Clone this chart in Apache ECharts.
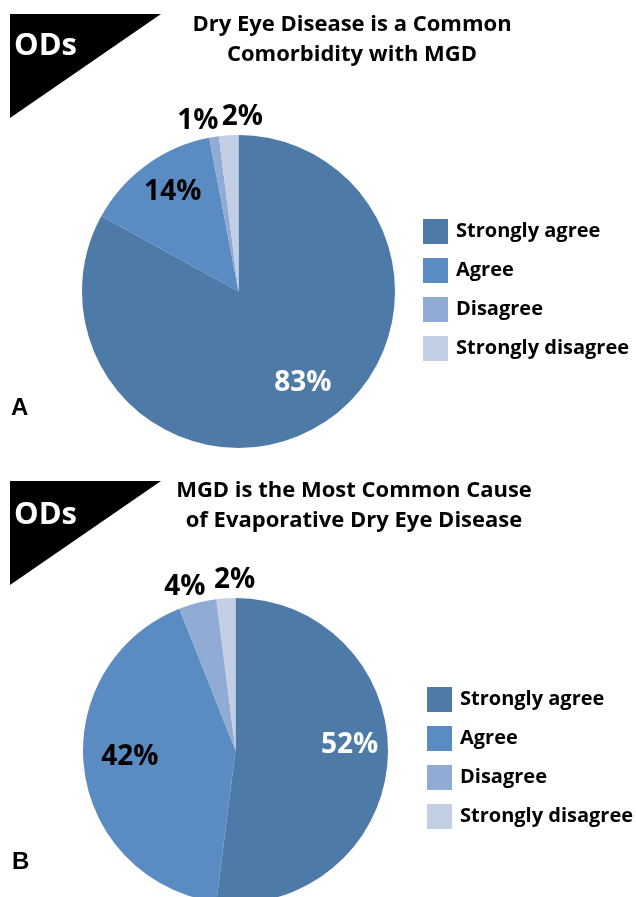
<!DOCTYPE html>
<html>
<head>
<meta charset="utf-8">
<script src="https://cdn.jsdelivr.net/npm/echarts@6/dist/echarts.min.js"></script>
<style>
  html, body { margin: 0; padding: 0; background: #fff; }
  #chart { width: 636px; height: 897px; }
</style>
</head>
<body>
<div id="chart"></div>
<script>
// Survey response categories (shared by both panels)
const categories = ['Strongly agree', 'Agree', 'Disagree', 'Strongly disagree'];

// Panel A: "Dry Eye Disease is a Common Comorbidity with MGD" (percent of ODs)
const panelAValues = [83, 14, 1, 2];
// Panel B: "MGD is the Most Common Cause of Evaporative Dry Eye Disease" (percent of ODs)
const panelBValues = [52, 42, 4, 2];

const panelATitle = 'Dry Eye Disease is a Common\nComorbidity with MGD';
const panelBTitle = 'MGD is the Most Common Cause\nof Evaporative Dry Eye Disease';

const sliceColors = ['#4d7aa6', '#5a8bc2', '#90abd4', '#c3cfe4'];
const labelColors = ['#ffffff', '#000000', '#000000', '#000000'];

// Label nudges (pixels) from the default inside position, per slice
const panelANudge = [[23, 22], [-18, -34], [-28, -90], [9, -93]];
const panelBNudge = [[35, -10], [-27, -3], [-31, -87], [4, -91]];

const FONT = '"Open Sans", Lato, sans-serif';

function buildData(values) {
  return categories.map((name, i) => ({
    name: name,
    value: values[i],
    itemStyle: { color: sliceColors[i] },
    label: { color: labelColors[i] }
  }));
}

function pieSeries(values, center, radius, nudge) {
  return {
    type: 'pie',
    center: center,
    radius: radius,
    startAngle: 90,
    clockwise: true,
    avoidLabelOverlap: false,
    silent: true,
    animation: false,
    itemStyle: { borderWidth: 0 },
    label: {
      show: true,
      position: 'inside',
      formatter: '{c}%',
      fontFamily: FONT,
      fontWeight: 'bold',
      fontSize: 28
    },
    labelLine: { show: false },
    labelLayout: function (p) {
      const n = nudge[p.dataIndex];
      return { dx: n[0], dy: n[1] };
    },
    emphasis: { disabled: true },
    data: buildData(values)
  };
}

function legendAt(left, top) {
  return {
    orient: 'vertical',
    left: left,
    top: top,
    padding: 0,
    itemWidth: 25,
    itemHeight: 25,
    itemGap: 14,
    icon: 'rect',
    selectedMode: false,
    data: categories,
    textStyle: {
      fontFamily: FONT,
      fontWeight: 'bold',
      fontSize: 20,
      color: '#000',
      padding: [0, 0, 0, 3]
    }
  };
}

function badge(top, textTop) {
  return [
    {
      type: 'polygon',
      shape: { points: [[10, top], [161, top], [10, top + 104]] },
      style: { fill: '#000' }
    },
    {
      type: 'text',
      left: 14,
      top: textTop,
      style: { text: 'ODs', fill: '#fff', font: 'bold 31px ' + FONT }
    }
  ];
}

const chart = echarts.init(document.getElementById('chart'), null, { renderer: 'canvas' });

const titleStyle = { fontFamily: FONT, fontWeight: 'bold', fontSize: 22, color: '#000', lineHeight: 30 };

chart.setOption({
  backgroundColor: '#ffffff',
  animation: false,
  title: [
    { text: panelATitle, left: 352, top: 9.5, textAlign: 'center', padding: 0, textStyle: titleStyle },
    { text: panelBTitle, left: 354, top: 475.5, textAlign: 'center', padding: 0, textStyle: titleStyle }
  ],
  legend: [legendAt(423, 219), legendAt(427, 687)],
  graphic: [
    ...badge(14, 31),
    ...badge(481, 500),
    {
      type: 'text', left: 11, top: 396,
      style: { text: 'A', fill: '#000', font: 'bold 24px "Liberation Sans", Arial, sans-serif' }
    },
    {
      type: 'text', left: 12, top: 850,
      style: { text: 'B', fill: '#000', font: 'bold 24px "Liberation Sans", Arial, sans-serif' }
    }
  ],
  series: [
    pieSeries(panelAValues, [238.5, 291.5], 156.5, panelANudge),
    pieSeries(panelBValues, [235.5, 750.5], 152.5, panelBNudge)
  ]
});
</script>
</body>
</html>
